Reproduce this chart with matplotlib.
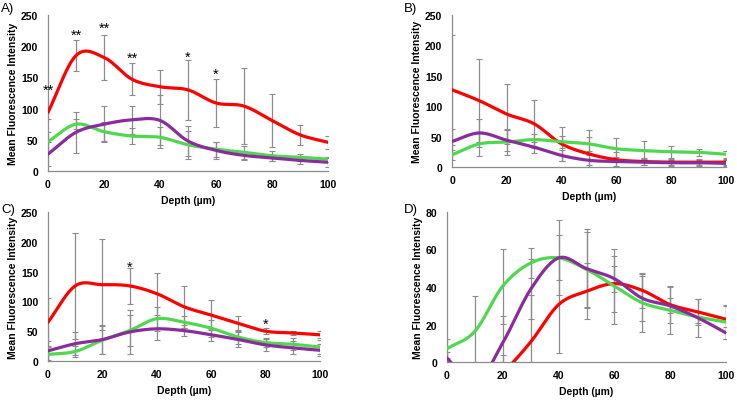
import numpy as np
import matplotlib
matplotlib.use("Agg")
import matplotlib.pyplot as plt

plt.rcParams['font.family'] = ['Liberation Sans', 'DejaVu Sans']

depth = [0, 10, 20, 30, 40, 50, 60, 70, 80, 90, 100]

# Panel A
a_red = [94, 185, 182, 147, 135, 130, 109, 104, 81, 58, 46]
a_red_sd = [10, 25, 36, 26, 27, 48, 39, 61, 43, 16, 10]
a_green = [47, 75, 63, 56, 54, 42, 35, 30, 24.5, 22, 19]
a_green_sd = [15, 8, 15, 13, 17, 22, 12, 10, 8, 6, 4]
a_purple = [27, 62, 75, 82, 81, 48, 33, 25, 21, 17, 14]
a_purple_sd = [19, 33, 29, 22, 40, 24, 14, 7, 5, 5, 7]

# Panel B
b_red = [127, 109, 87, 71, 38, 21.5, 12, 9, 8, 8, 8]
b_red_sd = [90, 68, 49, 40, 28, 40, 12, 6, 5, 5, 5]
b_green = [20, 38, 41, 45, 41.5, 38, 30, 27, 25, 24, 21]
b_green_sd = [8, 20, 21, 10, 10, 12, 17, 15, 10, 6, 6]
b_purple = [42, 56, 44, 32.5, 19, 11, 9, 8, 7, 7, 6]
b_purple_sd = [20, 23, 17, 9, 9, 8, 8, 5, 5, 5, 5]

# Panel C
c_red = [65, 126, 128, 126, 113, 91, 77, 63, 50, 47, 44]
c_red_sd = [41, 89, 76, 30, 35, 35, 25, 13, 5, 3, 6]
c_green = [11, 16, 35, 51, 71, 65, 55, 40, 31, 28, 23.5]
c_green_sd = [15, 10, 23, 26, 20, 10, 14, 12, 8, 10, 12]
c_purple = [17, 29, 36, 48.7, 54, 51, 44, 36, 27, 22, 18]
c_purple_sd = [16, 19, 25, 37, 18, 9, 10, 12, 10, 11, 10]

# Panel D
d_red = [-20, -20, -6, 10.7, 30.6, 37.7, 41.8, 38.2, 30.6, 26.7, 22.8]
d_red_sd = [5, 5, 10, 25, 26, 15, 15, 9.5, 10, 7, 7]
d_green = [7.1, 16.4, 40.5, 52.8, 55.5, 49.4, 40.5, 31.6, 27.6, 24, 21.3]
d_green_sd = [5, 19, 20, 8, 12, 20, 20, 15.6, 12.6, 3, 9]
d_purple = [2.1, -12, 10.3, 38.8, 55.5, 49.8, 44.4, 34, 29.9, 23.5, 15.5]
d_purple_sd = [3, 5, 14, 16, 20, 21, 7, 12, 4, 10, 3]

RED = '#FF0000'
GREEN = '#4FD84F'
PURPLE = '#8A2C9C'
ERR = '#8C8C8C'


def smooth(x, y, n=30):
    x = np.asarray(x, float)
    y = np.asarray(y, float)
    px = np.concatenate([[2 * x[0] - x[1]], x, [2 * x[-1] - x[-2]]])
    py = np.concatenate([[y[0]], y, [y[-1]]])
    py[0] = y[0] - (y[1] - y[0])
    py[-1] = y[-1] + (y[-1] - y[-2])
    xs, ys = [], []
    t = np.linspace(0, 1, n, endpoint=False)
    for i in range(1, len(px) - 2):
        p0x, p1x, p2x, p3x = px[i - 1:i + 3]
        p0y, p1y, p2y, p3y = py[i - 1:i + 3]
        c1x = p1x + (p2x - p0x) / 6
        c1y = p1y + (p2y - p0y) / 6
        c2x = p2x - (p3x - p1x) / 6
        c2y = p2y - (p3y - p1y) / 6
        b0 = (1 - t) ** 3
        b1 = 3 * (1 - t) ** 2 * t
        b2 = 3 * (1 - t) * t ** 2
        b3 = t ** 3
        xs.append(b0 * p1x + b1 * c1x + b2 * c2x + b3 * p2x)
        ys.append(b0 * p1y + b1 * c1y + b2 * c2y + b3 * p2y)
    xs.append([x[-1]])
    ys.append([y[-1]])
    return np.concatenate(xs), np.concatenate(ys)


fig = plt.figure(figsize=(7.37, 4.02), dpi=100)

W, H = 737.0, 402.0


def make_ax(l, r, t, b):
    return fig.add_axes([l / W, 1 - b / H, (r - l) / W, (b - t) / H])


panels = [
    (make_ax(48, 328, 16, 172), 'A)', (1, 9), 250, 50,
     [(a_red, a_red_sd, RED), (a_green, a_green_sd, GREEN), (a_purple, a_purple_sd, PURPLE)]),
    (make_ax(452, 726, 16, 168), 'B)', (404, 9), 250, 50,
     [(b_red, b_red_sd, RED), (b_green, b_green_sd, GREEN), (b_purple, b_purple_sd, PURPLE)]),
    (make_ax(48, 320, 213, 362), 'C)', (1, 210), 250, 50,
     [(c_red, c_red_sd, RED), (c_green, c_green_sd, GREEN), (c_purple, c_purple_sd, PURPLE)]),
    (make_ax(447, 726, 213, 363), 'D)', (404, 210), 80, 20,
     [(d_red, d_red_sd, RED), (d_green, d_green_sd, GREEN), (d_purple, d_purple_sd, PURPLE)]),
]

for ax, lab, (lx, ly), ymax, ystep, series in panels:
    for vals, sd, col in series:
        ax.errorbar(depth, vals, yerr=sd, fmt='none', ecolor=ERR, elinewidth=0.9,
                    capsize=2, capthick=0.8, zorder=1)
    for vals, sd, col in series:
        sx, sy = smooth(depth, vals)
        ax.plot(sx, sy, color=col, lw=2.3, zorder=3, solid_capstyle='round')
    ax.set_xlim(0, 100)
    ax.set_ylim(0, ymax)
    ax.set_xticks(range(0, 101, 20))
    ax.set_yticks(np.arange(0, ymax + 1, ystep))
    for s in ['top', 'right']:
        ax.spines[s].set_visible(False)
    for s in ['left', 'bottom']:
        ax.spines[s].set_color('#8C8C8C')
        ax.spines[s].set_linewidth(0.9)
    ax.tick_params(axis='x', length=0, labelsize=7.5, pad=6)
    ax.tick_params(axis='y', length=0, labelsize=7.5, pad=7)
    for t in ax.get_xticklabels() + ax.get_yticklabels():
        t.set_fontweight('bold')
    ax.set_xlabel('Depth (µm)', fontsize=7.5, fontweight='bold', labelpad=4)
    ax.set_ylabel('Mean Fluorescence Intensity', fontsize=7.5, fontweight='bold', labelpad=2)
    fig.text(lx / W, 1 - ly / H, lab, fontsize=9.5, va='center', ha='left')

axA, axC = panels[0][0], panels[2][0]
stars_A = [(0, 130, '**'), (10, 218, '**'), (20, 229, '**'), (30, 181, '**'), (50, 183, '*'), (60, 155, '*')]
for x, y, s in stars_A:
    axA.text(x, y, s, ha='center', va='center', fontsize=10.5, clip_on=False)
stars_C = [(30, 158, '*'), (80, 62, '*')]
for x, y, s in stars_C:
    axC.text(x, y, s, ha='center', va='center', fontsize=10.5, clip_on=False)

fig.savefig('out.png', dpi=100)
